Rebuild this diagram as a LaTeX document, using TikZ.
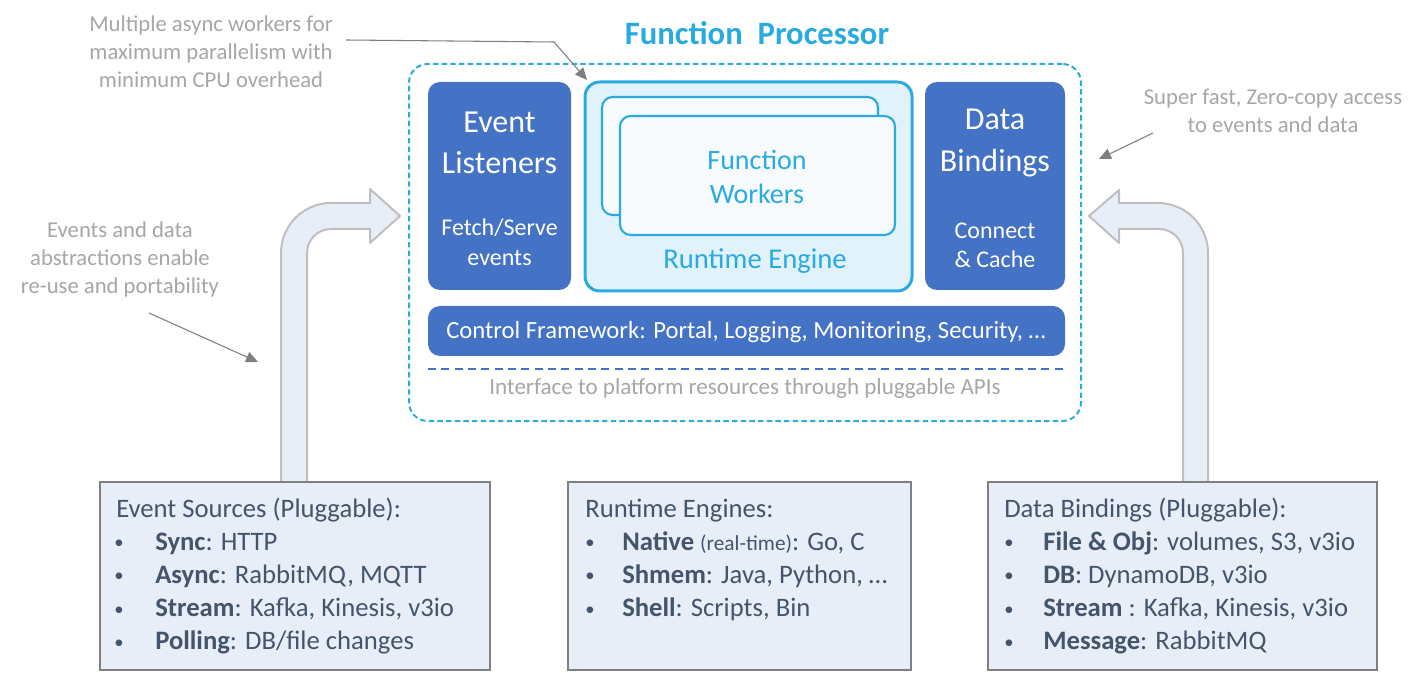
\documentclass[tikz,border=0pt]{standalone}
\usepackage{fontspec}
\setmainfont{Carlito}
\usetikzlibrary{fit,arrows.meta}
\definecolor{fpcyan}{HTML}{29ABE2}
\definecolor{boxblue}{HTML}{4472C4}
\definecolor{enginefill}{HTML}{E1F2FA}
\definecolor{cardfill}{HTML}{F7FBFE}
\definecolor{srcfill}{HTML}{E8EEF7}
\definecolor{boxgray}{HTML}{808080}
\definecolor{bendgray}{HTML}{BFBFBF}
\definecolor{notegray}{HTML}{A6A6A6}
\definecolor{linegray}{HTML}{7F7F7F}
\definecolor{slate}{HTML}{44546A}
\newcommand{\bul}{\raisebox{1.2pt}{\fontsize{14}{14}\selectfont\textbullet}}
\tikzstyle{fpframe}=[rectangle, draw=fpcyan, dash pattern=on 4pt off 2.5pt, line width=1.5pt, rounded corners=14pt, inner sep=0pt]
\tikzstyle{bluebox}=[rectangle, fill=boxblue, rounded corners=9pt, inner sep=0pt]
\tikzstyle{engine}=[rectangle, draw=fpcyan, fill=enginefill, line width=2.25pt, rounded corners=11pt, inner sep=0pt]
\tikzstyle{card}=[rectangle, draw=fpcyan, fill=cardfill, line width=1.6pt, rounded corners=8pt, inner sep=0pt]
\tikzstyle{srcbox}=[rectangle, draw=boxgray, fill=srcfill, line width=1.5pt, inner sep=0pt]
\tikzstyle{whitetxt}=[text=white, align=center, inner sep=0pt]
\tikzstyle{note}=[text=notegray, font=\fontsize{17}{21}\selectfont, align=center, inner sep=0pt]
\tikzstyle{noteline}=[draw=linegray, line width=0.8pt, -{Triangle[length=9pt, width=8pt]}]
\tikzstyle{bentarrow}=[draw=bendgray, fill=srcfill, line width=1.5pt, line join=round]
\tikzstyle{item}=[anchor=base west, inner sep=0pt, text=slate, font=\fontsize{20}{24}\selectfont]

\begin{document}
\begin{tikzpicture}[x=0.75pt, y=-0.75pt]
    \useasboundingbox (0,0) rectangle (1427,673);
    \node[text=fpcyan, font=\fontsize{24.5}{28}\selectfont\bfseries] (title) at (757,33) {Function\ \ Processor};
    \node[fpframe, fit={(409,64) (1081,421)}] (fp) {};
    \node[bluebox, fit={(428,82) (571,290)}] (el) {};
    \node[engine, fit={(585,82) (912,291)}] (rt) {};
    \node[card, fit={(602,97) (878,215)}] (wk1) {};
    \node[card, fit={(620,116) (895,235)}] (wk2) {};
    \node[bluebox, fit={(925,82) (1065,290)}] (db) {};
    \node[bluebox, fit={(428,306) (1065,356)}] (cf) {};
    \node[whitetxt, font=\fontsize{18.5}{22}\selectfont] (cf-t) at (746,332) {Control Framework: Portal, Logging, Monitoring, Security, \dots};
    \node[whitetxt, font=\fontsize{24}{30.75}\selectfont] (el-t) at (499.5,142.5) {Event\\Listeners};
    \node[whitetxt, font=\fontsize{18}{22.5}\selectfont] (el-s) at (499.5,242) {Fetch/Serve\\events};
    \node[whitetxt, font=\fontsize{24}{31}\selectfont] (db-t) at (995,143) {Data\\Bindings};
    \node[whitetxt, font=\fontsize{18}{22}\selectfont] (db-s) at (995,245) {Connect\\\& Cache};
    \node[text=fpcyan, align=center, inner sep=0pt, font=\fontsize{21}{25.5}\selectfont] (wk-t) at (757,177) {Function\\Workers};
    \node[text=fpcyan, inner sep=0pt, font=\fontsize{21.5}{26}\selectfont] (rt-t) at (755,261) {Runtime Engine};
    \coordinate (dl) at (428,369);
    \coordinate (dr) at (1065,369);
    \draw[draw=boxblue, line width=1.5pt, dash pattern=on 6pt off 4pt] (dl) -- (dr);
    \node[note, font=\fontsize{17.3}{20}\selectfont] (api) at (745,388) {Interface to platform resources through pluggable APIs};

    \node[note] (mw) at (211,52) {Multiple async workers for\\maximum parallelism with\\minimum CPU overhead};
    \node[note] (zc) at (1273,111) {Super fast, Zero-copy access\\to events and data};
    \node[note] (ab) at (120,259) {Events and data\\abstractions enable\\re-use and portability};
    \coordinate (mw-a) at (346,40);
    \coordinate (mw-b) at (554,42);
    \coordinate (mw-c) at (587,80);
    \coordinate (zc-a) at (1153,133);
    \coordinate (zc-b) at (1099,159);
    \coordinate (ab-a) at (149,313);
    \coordinate (ab-b) at (258,362);
    \draw[noteline] (mw-a) -- (mw-b) -- (mw-c);
    \draw[noteline] (zc-a) -- (zc-b);
    \draw[noteline] (ab-a) -- (ab-b);

    \draw[bentarrow] (281,483) -- (281,253) .. controls (281,225.4) and (303.4,203) .. (331,203)
        -- (370,203) -- (370,189) -- (400,216) -- (370,243) -- (370,229) -- (331,229)
        .. controls (317.7,229) and (307,239.7) .. (307,253) -- (307,483) -- cycle;
    \draw[bentarrow] (1208,483) -- (1208,253) .. controls (1208,225.4) and (1185.6,203) .. (1158,203)
        -- (1119,203) -- (1119,190) -- (1089,216) -- (1119,243) -- (1119,229) -- (1159,229)
        .. controls (1172.3,229) and (1183,239.7) .. (1183,253) -- (1183,483) -- cycle;

    \node[srcbox, fit={(100,482) (490,670)}] (srcev) {};
    \node[srcbox, fit={(568,482) (911,670)}] (srcrt) {};
    \node[srcbox, fit={(988,482) (1377,670)}] (srcdb) {};
    \node[item] (srcev-t) at (116,517) {Event Sources (Pluggable):};
    \foreach \n/\txt in {1/{\textbf{Sync}: HTTP}, 2/{\textbf{Async}: RabbitMQ, MQTT},
        3/{\textbf{Stream}: Kafka, Kinesis, v3io}, 4/{\textbf{Polling}: DB/file changes}}{
        \node[item] (srcev-b\n) at (114,517+33.2*\n) {\bul};
        \node[item] (srcev-i\n) at (155,517+33.2*\n) {\txt};
    }
    \node[item] (srcrt-t) at (585,517) {Runtime Engines:};
    \foreach \n/\txt in {1/{\textbf{Native} {\fontsize{16}{20}\selectfont(real-time)}: Go, C},
        2/{\textbf{Shmem}: Java, Python, \dots}, 3/{\textbf{Shell}: Scripts, Bin}}{
        \node[item] (srcrt-b\n) at (585,517+33.2*\n) {\bul};
        \node[item] (srcrt-i\n) at (622,517+33.2*\n) {\txt};
    }
    \node[item] (srcdb-t) at (1004,517) {Data Bindings (Pluggable):};
    \foreach \n/\txt in {1/{\textbf{File \& Obj}: volumes, S3, v3io}, 2/{\textbf{DB}: DynamoDB, v3io},
        3/{\textbf{Stream} : Kafka, Kinesis, v3io}, 4/{\textbf{Message}: RabbitMQ}}{
        \node[item] (srcdb-b\n) at (1004,517+33.2*\n) {\bul};
        \node[item] (srcdb-i\n) at (1043,517+33.2*\n) {\txt};
    }
\end{tikzpicture}
\end{document}
